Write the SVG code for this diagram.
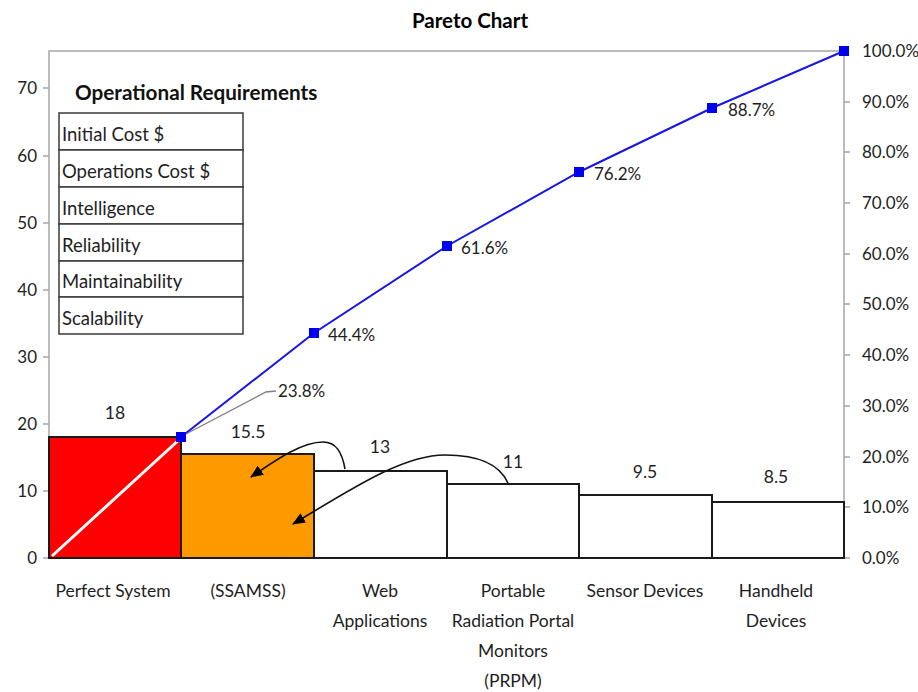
<svg xmlns="http://www.w3.org/2000/svg" width="918" height="692" viewBox="0 0 918 692">
<style>
text{font-family:Lato,"Open Sans","Liberation Sans",sans-serif;fill:#1e1e1e}
.tick{font-size:17px}
.lbl{font-size:17.5px;text-anchor:middle}
.axis{stroke:#a6a6a6;stroke-width:1.5;fill:none}
.bar{stroke:#1a1a1a;stroke-width:2}
.cell{fill:#fff;stroke:#3a3a3a;stroke-width:1.5}
.cellt{font-size:18.5px}
.pt{fill:#0000f0}
.arrow{fill:none;stroke:#111;stroke-width:1.6}
</style>
<defs>
<marker id="ah" viewBox="0 0 13 11" refX="12" refY="5.5" markerWidth="13" markerHeight="11" markerUnits="userSpaceOnUse" orient="auto">
<path d="M0,0 L13,5.5 L0,11 Z" fill="#000"/>
</marker>
</defs>
<rect width="918" height="692" fill="#fff"/>
<text x="470" y="28" text-anchor="middle" font-size="20.5" font-weight="bold" style="fill:#000">Pareto Chart</text>

<g id="axes">
<path class="axis" d="M49,51 H844 V558 H49 Z"/>
<path class="axis" d="M43,558H49M43,491H49M43,424H49M43,357H49M43,290H49M43,223H49M43,156H49M43,88H49"/>
<path class="axis" d="M844,558H850M844,507H850M844,457H850M844,406H850M844,355H850M844,304H850M844,254H850M844,203H850M844,152H850M844,102H850"/>
<g class="tick" text-anchor="end">
<text x="37" y="564">0</text>
<text x="37" y="497">10</text>
<text x="37" y="430">20</text>
<text x="37" y="363">30</text>
<text x="37" y="296">40</text>
<text x="37" y="229">50</text>
<text x="37" y="162">60</text>
<text x="37" y="94">70</text>
</g>
<g class="tick">
<text x="862" y="564">0.0%</text>
<text x="862" y="513">10.0%</text>
<text x="862" y="463">20.0%</text>
<text x="862" y="412">30.0%</text>
<text x="862" y="361">40.0%</text>
<text x="862" y="310">50.0%</text>
<text x="862" y="260">60.0%</text>
<text x="862" y="209">70.0%</text>
<text x="862" y="158">80.0%</text>
<text x="862" y="108">90.0%</text>
<text x="862" y="57">100.0%</text>
</g>
</g>

<g id="bar-perfect">
<rect class="bar" x="49" y="437" width="132" height="121" fill="#ff0000"/>
<line x1="52" y1="556" x2="181" y2="438" stroke="#fff" stroke-width="3"/>
<text class="lbl" x="115" y="419">18</text>
<text class="lbl" x="113" y="597">Perfect System</text>
</g>
<g id="bar-ssamss">
<rect class="bar" x="181" y="454" width="133" height="104" fill="#ff9900"/>
<text class="lbl" x="248" y="438">15.5</text>
<text class="lbl" x="248" y="597">(SSAMSS)</text>
</g>
<g id="bar-web">
<rect class="bar" x="314" y="471" width="133" height="87" fill="#fff"/>
<text class="lbl" x="380" y="453">13</text>
<text class="lbl" x="380" y="597">Web</text>
<text class="lbl" x="380" y="627">Applications</text>
</g>
<g id="bar-prpm">
<rect class="bar" x="447" y="484" width="132" height="74" fill="#fff"/>
<text class="lbl" x="513" y="468">11</text>
<text class="lbl" x="513" y="597">Portable</text>
<text class="lbl" x="513" y="627">Radiation Portal</text>
<text class="lbl" x="513" y="657">Monitors</text>
<text class="lbl" x="513" y="687">(PRPM)</text>
</g>
<g id="bar-sensor">
<rect class="bar" x="579" y="495" width="133" height="63" fill="#fff"/>
<text class="lbl" x="645" y="478">9.5</text>
<text class="lbl" x="645" y="597">Sensor Devices</text>
</g>
<g id="bar-handheld">
<rect class="bar" x="712" y="502" width="132" height="56" fill="#fff"/>
<text class="lbl" x="776" y="483">8.5</text>
<text class="lbl" x="776" y="597">Handheld</text>
<text class="lbl" x="776" y="627">Devices</text>
</g>

<g id="table">
<rect class="cell" x="59" y="113" width="184" height="37"/>
<rect class="cell" x="59" y="150" width="184" height="37"/>
<rect class="cell" x="59" y="187" width="184" height="37"/>
<rect class="cell" x="59" y="224" width="184" height="37"/>
<rect class="cell" x="59" y="261" width="184" height="36"/>
<rect class="cell" x="59" y="297" width="184" height="37"/>
<text x="75" y="100" font-size="20.7" font-weight="bold" style="fill:#111">Operational Requirements</text>
<text class="cellt" x="62" y="141">Initial Cost $</text>
<text class="cellt" x="62" y="178">Operations Cost $</text>
<text class="cellt" x="62" y="215">Intelligence</text>
<text class="cellt" x="62" y="252">Reliability</text>
<text class="cellt" x="62" y="288">Maintainability</text>
<text class="cellt" x="62" y="325">Scalability</text>
</g>

<g id="cumulative">
<polyline points="181,437 314,333 447,246 579,172 712,108 844,51" fill="none" stroke="#1515e8" stroke-width="2"/>
<rect class="pt" x="176" y="432" width="10" height="10"/>
<rect class="pt" x="309" y="328" width="10" height="10"/>
<rect class="pt" x="442" y="241" width="10" height="10"/>
<rect class="pt" x="574" y="167" width="10" height="10"/>
<rect class="pt" x="707" y="103" width="10" height="10"/>
<rect class="pt" x="839" y="46" width="10" height="10"/>
<polyline points="186,434 266,392 276,391" fill="none" stroke="#808080" stroke-width="1.3"/>
<text class="tick" x="278" y="397">23.8%</text>
<text class="tick" x="328" y="341">44.4%</text>
<text class="tick" x="461" y="254">61.6%</text>
<text class="tick" x="594" y="180">76.2%</text>
<text class="tick" x="728" y="116">88.7%</text>
</g>

<g id="connectors">
<path class="arrow" d="M345,469 C342,452 336,442 323,442 C303,442 280,457 251,477" marker-end="url(#ah)"/>
<path class="arrow" d="M508,483 C499,463 477,455 445,455 C402,455 350,490 293,524" marker-end="url(#ah)"/>
</g>
</svg>
